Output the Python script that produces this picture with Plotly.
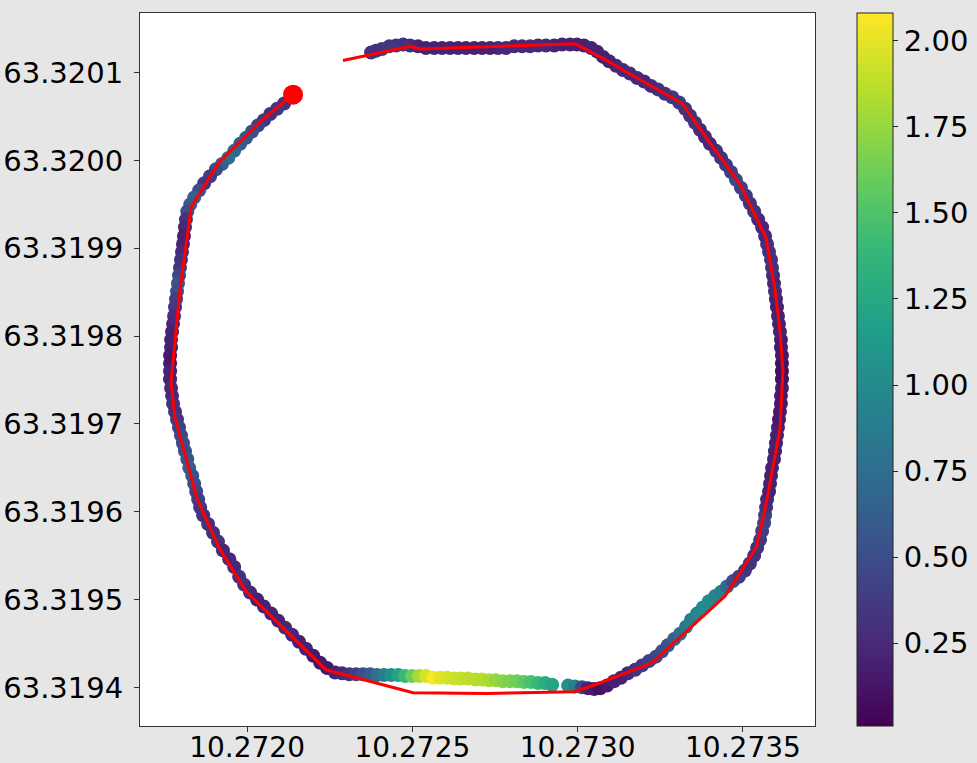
import plotly.graph_objects as go

# GPS track points (lon, lat) coloured by speed
lon = [
    10.272112, 10.272091, 10.272070, 10.272051, 10.272033, 10.272015, 10.271997, 10.271979, 10.271961, 10.271943,
    10.271924, 10.271906, 10.271888, 10.271870, 10.271855, 10.271840, 10.271828, 10.271819, 10.271815, 10.271812,
    10.271809, 10.271806, 10.271803, 10.271800, 10.271797, 10.271794, 10.271791, 10.271788, 10.271785, 10.271782,
    10.271779, 10.271776, 10.271773, 10.271770, 10.271770, 10.271767, 10.271767, 10.271767, 10.271767, 10.271770,
    10.271773, 10.271776, 10.271782, 10.271788, 10.271794, 10.271800, 10.271806, 10.271812, 10.271819, 10.271825,
    10.271834, 10.271840, 10.271846, 10.271852, 10.271858, 10.271867, 10.271882, 10.271897, 10.271912, 10.271927,
    10.271946, 10.271961, 10.271976, 10.271991, 10.272009, 10.272030, 10.272051, 10.272073, 10.272094, 10.272115,
    10.272136, 10.272157, 10.272178, 10.272200, 10.272221, 10.272242, 10.272266,
    10.272287, 10.272309, 10.272330, 10.272351, 10.272372, 10.272393, 10.272414, 10.272436, 10.272457, 10.272478,
    10.272499, 10.272520, 10.272541, 10.272563, 10.272584, 10.272605, 10.272626, 10.272647, 10.272668, 10.272690,
    10.272711, 10.272732, 10.272753, 10.272774, 10.272796, 10.272817, 10.272838, 10.272859, 10.272880, 10.272901,
    10.272923, 10.272971, 10.272992, 10.273013, 10.273031, 10.273050, 10.273068,
    10.273089, 10.273110, 10.273131, 10.273152, 10.273174, 10.273195, 10.273216, 10.273237, 10.273255, 10.273273,
    10.273292, 10.273310, 10.273328, 10.273343, 10.273361, 10.273379, 10.273397, 10.273416, 10.273434, 10.273452,
    10.273470, 10.273488, 10.273506, 10.273521, 10.273534, 10.273543, 10.273552, 10.273558, 10.273564, 10.273567,
    10.273570, 10.273573, 10.273579, 10.273582, 10.273585, 10.273588, 10.273594, 10.273597, 10.273600, 10.273603,
    10.273606, 10.273609, 10.273612, 10.273615, 10.273615, 10.273618, 10.273618, 10.273618, 10.273618, 10.273618,
    10.273615, 10.273615, 10.273612, 10.273609, 10.273606, 10.273603, 10.273600, 10.273597, 10.273594, 10.273591,
    10.273588, 10.273585, 10.273579, 10.273573, 10.273567, 10.273558, 10.273546, 10.273534, 10.273521, 10.273509,
    10.273494, 10.273479, 10.273464, 10.273449, 10.273434, 10.273419, 10.273400, 10.273385, 10.273370, 10.273355,
    10.273340, 10.273325, 10.273307, 10.273286, 10.273264, 10.273243, 10.273222, 10.273201, 10.273180, 10.273158,
    10.273137, 10.273116, 10.273095, 10.273077, 10.273059, 10.273041, 10.273019, 10.272998,
    10.272977, 10.272953, 10.272929, 10.272904, 10.272880, 10.272856, 10.272832, 10.272808, 10.272783, 10.272759,
    10.272735, 10.272711, 10.272687, 10.272662, 10.272638, 10.272614, 10.272590, 10.272566, 10.272541, 10.272517,
    10.272493, 10.272472, 10.272451, 10.272430, 10.272408, 10.272390, 10.272375,
]
lat = [
    63.320065, 63.320059, 63.320053, 63.320046, 63.320040, 63.320033, 63.320026, 63.320019, 63.320011, 63.320003,
    63.319996, 63.319990, 63.319982, 63.319974, 63.319966, 63.319958, 63.319950, 63.319942, 63.319933, 63.319924,
    63.319914, 63.319905, 63.319896, 63.319887, 63.319878, 63.319869, 63.319860, 63.319851, 63.319842, 63.319833,
    63.319823, 63.319814, 63.319805, 63.319796, 63.319787, 63.319778, 63.319769, 63.319760, 63.319751, 63.319741,
    63.319732, 63.319723, 63.319714, 63.319705, 63.319696, 63.319687, 63.319678, 63.319669, 63.319660, 63.319650,
    63.319641, 63.319632, 63.319623, 63.319614, 63.319605, 63.319596, 63.319586, 63.319576, 63.319566, 63.319556,
    63.319546, 63.319537, 63.319526, 63.319517, 63.319508, 63.319500, 63.319492, 63.319484, 63.319476, 63.319468,
    63.319460, 63.319452, 63.319444, 63.319436, 63.319428, 63.319422, 63.319417,
    63.319416, 63.319415, 63.319415, 63.319415, 63.319415, 63.319414, 63.319414, 63.319414, 63.319414, 63.319413,
    63.319413, 63.319413, 63.319413, 63.319411, 63.319411, 63.319411, 63.319410, 63.319410, 63.319410, 63.319409,
    63.319409, 63.319408, 63.319408, 63.319407, 63.319407, 63.319407, 63.319406, 63.319406, 63.319405, 63.319405,
    63.319403, 63.319402, 63.319401, 63.319400, 63.319399, 63.319398, 63.319399,
    63.319402, 63.319407, 63.319411, 63.319416, 63.319420, 63.319425, 63.319430, 63.319435, 63.319441, 63.319448,
    63.319455, 63.319461, 63.319469, 63.319477, 63.319484, 63.319491, 63.319498, 63.319504, 63.319509, 63.319515,
    63.319521, 63.319526, 63.319533, 63.319541, 63.319550, 63.319559, 63.319568, 63.319578, 63.319587, 63.319596,
    63.319605, 63.319614, 63.319623, 63.319632, 63.319641, 63.319650, 63.319660, 63.319669, 63.319678, 63.319687,
    63.319696, 63.319705, 63.319714, 63.319723, 63.319732, 63.319741, 63.319751, 63.319760, 63.319769, 63.319778,
    63.319787, 63.319796, 63.319805, 63.319814, 63.319823, 63.319833, 63.319842, 63.319851, 63.319860, 63.319869,
    63.319878, 63.319887, 63.319896, 63.319905, 63.319914, 63.319924, 63.319933, 63.319942, 63.319951, 63.319960,
    63.319969, 63.319978, 63.319987, 63.319995, 63.320003, 63.320011, 63.320019, 63.320027, 63.320035, 63.320043,
    63.320051, 63.320059, 63.320066, 63.320072, 63.320076, 63.320081, 63.320085, 63.320090, 63.320094, 63.320099,
    63.320103, 63.320108, 63.320113, 63.320118, 63.320124, 63.320128, 63.320131, 63.320132,
    63.320132, 63.320132, 63.320131, 63.320131, 63.320131, 63.320130, 63.320130, 63.320130, 63.320128, 63.320128,
    63.320128, 63.320128, 63.320128, 63.320128, 63.320128, 63.320128, 63.320128, 63.320128, 63.320128, 63.320130,
    63.320131, 63.320132, 63.320131, 63.320130, 63.320127, 63.320125, 63.320123,
]
speed = [
    0.30, 0.35, 0.30, 0.35, 0.40, 0.50, 0.55, 0.60, 0.70, 0.75,
    0.65, 0.50, 0.40, 0.35, 0.50, 0.65, 0.60, 0.50, 0.30, 0.25,
    0.20, 0.20, 0.25, 0.30, 0.35, 0.45, 0.55, 0.50, 0.40, 0.35,
    0.30, 0.25, 0.20, 0.20, 0.20, 0.15, 0.15, 0.20, 0.20, 0.25,
    0.25, 0.30, 0.30, 0.35, 0.40, 0.45, 0.50, 0.50, 0.55, 0.60,
    0.55, 0.50, 0.45, 0.40, 0.35, 0.30, 0.30, 0.30, 0.30, 0.25,
    0.25, 0.25, 0.30, 0.30, 0.25, 0.20, 0.20, 0.20, 0.20, 0.25,
    0.25, 0.20, 0.20, 0.15, 0.15, 0.15, 0.20,
    0.25, 0.30, 0.40, 0.50, 0.60, 0.75, 0.90, 1.05, 1.20, 1.40,
    1.60, 1.80, 1.95, 2.07, 2.00, 1.95, 1.92, 1.90, 1.88, 1.86,
    1.84, 1.80, 1.75, 1.70, 1.66, 1.62, 1.55, 1.48, 1.40, 1.30,
    1.22, 1.05, 0.90, 0.45, 0.20, 0.15, 0.10,
    0.15, 0.20, 0.20, 0.25, 0.30, 0.35, 0.40, 0.45, 0.50, 0.55,
    0.65, 0.75, 0.85, 0.90, 0.95, 1.00, 1.00, 0.95, 0.90, 0.70,
    0.50, 0.40, 0.35, 0.30, 0.30, 0.30, 0.35, 0.40, 0.45, 0.40,
    0.30, 0.25, 0.20, 0.20, 0.20, 0.20, 0.20, 0.20, 0.20, 0.20,
    0.20, 0.15, 0.15, 0.15, 0.15, 0.15, 0.10, 0.10, 0.10, 0.15,
    0.15, 0.15, 0.20, 0.20, 0.20, 0.20, 0.20, 0.25, 0.25, 0.25,
    0.30, 0.30, 0.30, 0.30, 0.25, 0.25, 0.25, 0.30, 0.30, 0.35,
    0.40, 0.45, 0.40, 0.35, 0.30, 0.30, 0.25, 0.25, 0.25, 0.30,
    0.30, 0.30, 0.35, 0.35, 0.30, 0.30, 0.25, 0.25, 0.25, 0.25,
    0.25, 0.25, 0.20, 0.20, 0.20, 0.20, 0.20, 0.20,
    0.20, 0.20, 0.20, 0.25, 0.25, 0.25, 0.25, 0.25, 0.25, 0.25,
    0.20, 0.20, 0.20, 0.20, 0.20, 0.20, 0.20, 0.20, 0.20, 0.20,
    0.25, 0.30, 0.30, 0.35, 0.35, 0.30, 0.30,
]

# Route (red line)
route_lon = [10.272139, 10.272109, 10.272057, 10.271952, 10.271915, 10.271831, 10.271797, 10.271770, 10.271782,
             10.271849, 10.271918, 10.271997, 10.272239, 10.272502, 10.272726, 10.272989, 10.273053, 10.273225,
             10.273343, 10.273446, 10.273540, 10.273567, 10.273612, 10.273621, 10.273612, 10.273597, 10.273570,
             10.273491, 10.273391, 10.273316, 10.273189, 10.273068, 10.272992, 10.272523, 10.272493, 10.272290]
route_lat = [63.320075, 63.320066, 63.320050, 63.320012, 63.319998, 63.319947, 63.319853, 63.319748, 63.319707,
             63.319614, 63.319557, 63.319509, 63.319420, 63.319394, 63.319393, 63.319395, 63.319403, 63.319428,
             63.319469, 63.319504, 63.319559, 63.319603, 63.319694, 63.319760, 63.319807, 63.319853, 63.319912,
             63.319973, 63.320025, 63.320065, 63.320092, 63.320118, 63.320133, 63.320127, 63.320130, 63.320114]

# Start marker
start_lon = [10.272139]
start_lat = [63.320075]

# Axis ticks
x_ticks = [10.2720, 10.2725, 10.2730, 10.2735]
y_ticks = [63.3194, 63.3195, 63.3196, 63.3197, 63.3198, 63.3199, 63.3200, 63.3201]
cbar_ticks = [0.25, 0.50, 0.75, 1.00, 1.25, 1.50, 1.75, 2.00]

FONT = "DejaVu Sans"
FS = 29

fig = go.Figure()
fig.add_trace(go.Scatter(
    x=lon, y=lat, mode="markers",
    marker=dict(
        size=14, color=speed, colorscale="Viridis", cmin=0.01, cmax=2.08,
        line=dict(width=0),
        colorbar=dict(
            x=(857 - 140) / 675, xanchor="left", xpad=0,
            y=0.5, yanchor="middle", len=1, lenmode="fraction", ypad=0,
            thickness=36, thicknessmode="pixels",
            outlinewidth=1, outlinecolor="#222222",
            tickvals=cbar_ticks, ticktext=[f"{v:.2f}" for v in cbar_ticks],
            ticks="outside", ticklen=5, tickwidth=1, tickcolor="#222222",
            tickfont=dict(family=FONT, size=FS, color="black"),
        ),
    ),
    showlegend=False, hoverinfo="skip",
))
fig.add_trace(go.Scatter(
    x=route_lon, y=route_lat, mode="lines",
    line=dict(color="#ff0000", width=3),
    showlegend=False, hoverinfo="skip",
))
fig.add_trace(go.Scatter(
    x=start_lon, y=start_lat, mode="markers",
    marker=dict(color="#ff0000", size=20, line=dict(width=0)),
    showlegend=False, hoverinfo="skip",
))

axis_common = dict(
    showgrid=False, zeroline=False, showline=True, linecolor="#333333", linewidth=1,
    mirror=True, ticks="outside", ticklen=5, tickwidth=1, tickcolor="#333333",
    automargin=False,
)
fig.update_layout(
    template="none",
    width=977, height=763,
    margin=dict(l=140, r=162, t=13, b=37, pad=0, autoexpand=False),
    paper_bgcolor="#e6e6e6", plot_bgcolor="white",
    font=dict(family=FONT, size=FS, color="black"),
    xaxis=dict(range=[10.271676, 10.273718], tickvals=x_ticks, ticklabelstandoff=-9,
               ticktext=[f"{v:.4f}" for v in x_ticks],
               tickfont=dict(family=FONT, size=28, color="black"), **axis_common),
    yaxis=dict(range=[63.319356, 63.320168], tickvals=y_ticks, ticklabelstandoff=5,
               ticktext=[f"{v:.4f}" for v in y_ticks],
               tickfont=dict(family=FONT, size=FS, color="black"), **axis_common),
)
fig.write_html("out.html", config={"displayModeBar": False},
               post_script="document.body.style.margin='0px';document.body.style.overflow='hidden';")
